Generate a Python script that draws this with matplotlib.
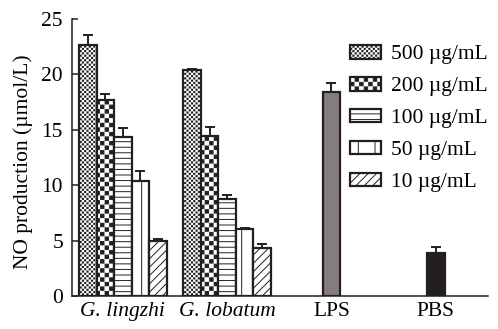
import warnings
import numpy as np
import matplotlib
matplotlib.use('Agg')
import matplotlib.pyplot as plt
import matplotlib.hatch as mhatch
from matplotlib.path import Path
warnings.simplefilter('ignore')

# data
groups = ['G. lingzhi', 'G. lobatum', 'LPS', 'PBS']
conc = ['500 µg/mL', '200 µg/mL', '100 µg/mL', '50 µg/mL', '10 µg/mL']
lingzhi = [22.65, 17.7, 14.35, 10.4, 5.0]
lingzhi_err = [0.9, 0.5, 0.8, 0.9, 0.1]
lobatum = [20.4, 14.45, 8.75, 6.05, 4.35]
lobatum_err = [0.1, 0.8, 0.35, 0.1, 0.3]
lps = [18.4]
lps_err = [0.87]
pbs = [3.9]
pbs_err = [0.55]


# checkerboard hatch ('c' fine, 'k' coarse), not in matplotlib by default
class Checker(mhatch.HatchPatternBase):
    def __init__(self, hatch, density):
        if 'c' in hatch:
            self.n = 44
        elif 'k' in hatch:
            self.n = 22
        else:
            self.n = 0
        self.num_vertices = 5 * (self.n * self.n // 2)

    def set_vertices_and_codes(self, vertices, codes):
        s = 1.0 / self.n
        d = 0.0056  # leave room for the hatch stroke
        k = 0
        for i in range(self.n):
            for j in range(self.n):
                if (i + j) % 2 == 0:
                    x, y = i * s, j * s
                    vertices[k:k + 5] = [[x + d, y + d], [x + s - d, y + d], [x + s - d, y + s - d],
                                         [x + d, y + s - d], [x + d, y + d]]
                    codes[k:k + 5] = [Path.MOVETO, Path.LINETO, Path.LINETO, Path.LINETO, Path.CLOSEPOLY]
                    k += 5


mhatch._hatch_types.append(Checker)

dark = '#231f20'
plt.rcParams['font.family'] = ['Liberation Serif', 'DejaVu Serif']
plt.rcParams['font.size'] = 15.5
plt.rcParams['hatch.linewidth'] = 0.7
plt.rcParams['hatch.color'] = dark

fig = plt.figure(figsize=(4.98, 3.29), dpi=100)
ax = fig.add_axes([0.1446, 0.1003, 0.9799 - 0.1446, 0.9422 - 0.1003])

w = 0.168
hatches = ['c', 'k', '---', '|', '////']
x = np.arange(len(groups))
for i in range(5):
    off = (i - 2) * w
    vals = [lingzhi[i], lobatum[i]]
    errs = [lingzhi_err[i], lobatum_err[i]]
    ax.bar(x[:2] + off, vals, w, color='white', edgecolor=dark, linewidth=1.6,
           hatch=hatches[i], label=conc[i], zorder=2)
    ax.errorbar(x[:2] + off, vals, yerr=[np.zeros(2), errs], fmt='none', ecolor=dark,
                elinewidth=1.4, capsize=3.6, capthick=1.4, zorder=1)

ax.bar(x[2], lps, w, color='#857c7d', edgecolor=dark, linewidth=1.6, zorder=2)
ax.errorbar(x[2], lps, yerr=[[0], lps_err], fmt='none', ecolor=dark, elinewidth=1.4,
            capsize=3.6, capthick=1.4, zorder=1)
ax.bar(x[3], pbs, w, color=dark, edgecolor=dark, linewidth=1.6, zorder=2)
ax.errorbar(x[3], pbs, yerr=[[0], pbs_err], fmt='none', ecolor=dark, elinewidth=1.4,
            capsize=3.6, capthick=1.4, zorder=1)

ax.set_xlim(-0.487, 3.5)
ax.set_ylim(0, 25)
ax.set_yticks([0, 5, 10, 15, 20, 25])
ax.set_xticks(x)
ax.set_xticklabels(groups)
for lab in ax.get_xticklabels()[:2]:
    lab.set_style('italic')
ax.tick_params(axis='y', direction='in', length=4, width=1.1, color=dark, pad=6.5)
ax.tick_params(axis='x', length=0, pad=4)
ax.spines['top'].set_visible(False)
ax.spines['right'].set_visible(False)
for sp in ['left', 'bottom']:
    ax.spines[sp].set_linewidth(1.1)
    ax.spines[sp].set_color(dark)
ax.set_ylabel('NO production (µmol/L)')
ax.yaxis.set_label_coords(-0.094, 0.484)

ax.legend(loc='upper left', bbox_to_anchor=(350 / 498, 1 - 45 / 329), bbox_transform=fig.transFigure,
          frameon=False, borderpad=0, borderaxespad=0, handlelength=1.45, handleheight=0.6,
          handletextpad=0.45, labelspacing=0.58)

fig.savefig('out.png', dpi=100)
